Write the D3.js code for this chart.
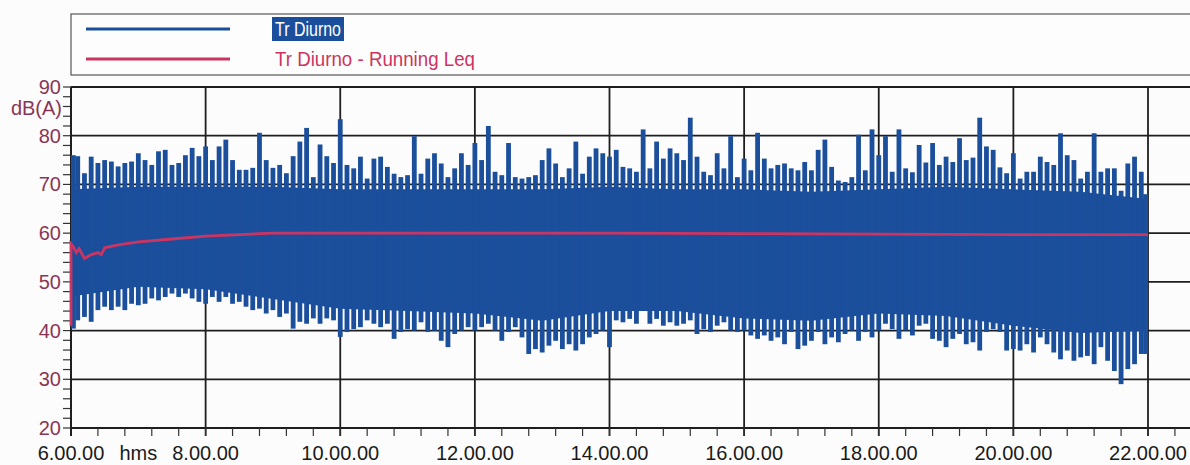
<!DOCTYPE html>
<html>
<head>
<meta charset="utf-8">
<script src="https://cdn.jsdelivr.net/npm/d3@7"></script>
<style>
  body { margin: 0; background: #fcfcfc; }
  text { font-family: "Liberation Sans", Arial, sans-serif; }
</style>
</head>
<body>
<svg id="chart" width="1190" height="465"></svg>
<script>
// axis ticks
const hourTicks = [6, 8, 10, 12, 14, 16, 18, 20, 22];
const dbTicks = [20, 30, 40, 50, 60, 70, 80, 90];

// Tr Diurno: max / min of each 6 minute slice, 6.00 -> 22.00
const sampleStart = 6;
const sampleStep = 0.1;
const peakDb = [
  76, 75.8, 72.3, 75.7, 74.4, 75, 74.7, 73.7, 74.4, 74.7,
  76.4, 75, 74, 76.8, 77.1, 74, 74.4, 76, 77.5, 75.8,
  77.8, 75, 77.8, 79.2, 75, 73, 73, 73.4, 80.6, 75,
  73.4, 74, 72.3, 75.8, 78.8, 81.6, 71.5, 78.2, 75.8, 74.4,
  83.4, 74, 73.3, 75.7, 71.2, 75.3, 75.7, 73.6, 72.2, 71.5,
  71.9, 79.9, 72.2, 75.3, 76.4, 74.3, 71.5, 73.3, 76.4, 74,
  78.5, 75, 82, 72.6, 71.9, 78.5, 71.5, 71.2, 71.5, 71.9,
  75, 77.4, 74.3, 71.5, 73.3, 78.8, 72.2, 75.7, 77.4, 76.4,
  75.7, 77.1, 73.6, 73.3, 72.6, 81.3, 73.3, 78.8, 75.3, 77.4,
  76.4, 75, 83.7, 75.7, 72.6, 71.9, 76.4, 73.3, 79.9, 71.5,
  75.3, 72.9, 80.6, 75.3, 73.3, 74, 74.3, 73.3, 72.9, 74.6,
  72.9, 77.1, 79.2, 73.6, 70.8, 70.5, 71.5, 80.2, 72.9, 81.3,
  76, 79.9, 72.6, 81.3, 73.3, 72.5, 78.1, 74.5, 78.5, 74,
  75.7, 74.6, 79.5, 75, 75.5, 83.7, 77.8, 77.1, 73.5, 72.3,
  76.4, 71.2, 72.6, 72.6, 75.7, 74.6, 74, 80.5, 76, 75,
  71.2, 72.6, 80.5, 72.6, 73.3, 73.3, 68.7, 74.3, 75.7, 72.6,
  68
];
const floorDb = [
  40.4, 42.1, 42.8, 41.8, 44.2, 44.9, 44.2, 44.9, 44.2, 45.5,
  45.2, 45.5, 46.6, 46.2, 46.9, 47.6, 46.9, 47.6, 46.6, 45.9,
  45.5, 46.9, 45.9, 46.9, 45.5, 45.9, 44.9, 44.2, 44.5, 43.5,
  44.2, 42.8, 43.5, 40.4, 41.8, 41.4, 42.5, 41.4, 42.5, 42.1,
  38.7, 39.7, 40.3, 40.7, 42.1, 41.4, 40.7, 41.4, 38.3, 39.7,
  40.3, 40, 41.7, 39.7, 40, 37.9, 36.6, 39.3, 40, 40.7,
  40, 40.7, 41.4, 40, 37.9, 39.7, 40.7, 38.6, 35.2, 36.2,
  35.5, 36.9, 37.9, 36.2, 37.2, 35.9, 37.2, 38.6, 39.3, 40,
  36.6, 42.1, 41.7, 42.4, 41.4, 44.1, 41.4, 42.4, 41, 41.7,
  41, 41.4, 42.1, 39.3, 40.3, 39.7, 41, 41.7, 40, 39.7,
  40, 39, 38.3, 39, 37.9, 38.6, 37.2, 39.7, 36.2, 36.9,
  37.9, 39.7, 37.2, 38.6, 37.6, 39.3, 40, 37.9, 39.7, 38.6,
  40, 41.4, 40.3, 38.3, 40, 39, 41, 41.4, 38.3, 37.9,
  36.6, 38.3, 39.3, 37.2, 37.6, 35.9, 39.7, 40.3, 39.7, 35.9,
  36.2, 35.9, 37.2, 35.5, 38.6, 37.2, 35.5, 34.1, 35.9, 33.8,
  34.5, 34.8, 33.1, 36.6, 33.8, 31.7, 29, 32.1, 33.1, 35.2,
  35.2
];

// solid part of the band, hour by hour
const coreHours = [6, 7, 8, 9, 10, 11, 12, 13, 14, 15, 16, 17, 18, 19, 20, 21, 22];
const coreHiDb = [69, 69.5, 69.5, 69.5, 69, 69, 69, 69, 69.5, 69, 69, 68.5, 69, 69.5, 69, 68.5, 67];
const coreLoDb = [47, 49, 48.5, 46.5, 44.5, 44, 43.5, 42, 44, 44, 42.5, 42, 43.5, 43, 41, 39.5, 40];

// Tr Diurno - Running Leq
const leqHours = [6, 6, 6.03, 6.08, 6.12, 6.2, 6.3, 6.4, 6.45, 6.5, 6.7, 7, 7.5, 8, 8.5, 9, 10, 12, 14, 16, 18, 20, 22];
const leqDb = [41, 57.8, 57.3, 56, 56.8, 54.8, 55.6, 56, 55.6, 57, 57.6, 58.2, 58.8, 59.4, 59.7, 60, 60, 60, 60, 59.9, 59.8, 59.7, 59.7];

const blue = '#1b4f9c';
const red = '#cc3461';
const labelColor = '#8b3556';
const gridColor = '#1e1e1e';

const svg = d3.select('#chart');
const plotLeft = 71, plotRight = 1148, plotTop = 87, plotBottom = 428;

const x = d3.scaleLinear().domain([6, 22]).range([plotLeft, plotRight]);
const y = d3.scaleLinear().domain([20, 90]).range([plotBottom, plotTop]);

svg.append('rect').attr('width', 1190).attr('height', 465).attr('fill', '#fcfcfc');

// grid
svg.append('g')
  .selectAll('line')
  .data(dbTicks)
  .join('line')
  .attr('x1', plotLeft).attr('x2', 1190)
  .attr('y1', d => y(d)).attr('y2', d => y(d))
  .attr('stroke', gridColor).attr('stroke-width', 1.8);

svg.append('g')
  .selectAll('line')
  .data(hourTicks)
  .join('line')
  .attr('x1', d => x(d)).attr('x2', d => x(d))
  .attr('y1', plotTop).attr('y2', plotBottom + 8)
  .attr('stroke', gridColor).attr('stroke-width', 1.8);

// minor ticks
const yMinor = d3.range(20, 90.1, 2);
svg.append('g')
  .selectAll('line')
  .data(yMinor)
  .join('line')
  .attr('x1', plotLeft - 8).attr('x2', plotLeft)
  .attr('y1', d => y(d)).attr('y2', d => y(d))
  .attr('stroke', '#333').attr('stroke-width', 1.2);

const xMinor = d3.range(6, 22.45, 0.4);
svg.append('g')
  .selectAll('line')
  .data(xMinor)
  .join('line')
  .attr('x1', d => x(d)).attr('x2', d => x(d))
  .attr('y1', plotBottom).attr('y2', plotBottom + 8)
  .attr('stroke', '#333').attr('stroke-width', 1.2);

// left axis line
svg.append('line')
  .attr('x1', plotLeft).attr('x2', plotLeft).attr('y1', plotTop).attr('y2', plotBottom + 8)
  .attr('stroke', gridColor).attr('stroke-width', 1.8);

// blue band
const core = coreHours.map((h, i) => ({ h, hi: coreHiDb[i], lo: coreLoDb[i] }));
svg.append('path')
  .datum(core)
  .attr('fill', blue)
  .attr('d', d3.area().x(d => x(d.h)).y0(d => y(d.lo)).y1(d => y(d.hi)));

const samples = peakDb.map((p, i) => ({ h: sampleStart + i * sampleStep, hi: p, lo: floorDb[i] }));
const barW = 4.8;
svg.append('g')
  .selectAll('rect')
  .data(samples)
  .join('rect')
  .attr('x', d => Math.max(plotLeft, Math.min(plotRight - barW, x(d.h) - barW / 2)))
  .attr('width', barW)
  .attr('y', d => y(d.hi))
  .attr('height', d => y(d.lo) - y(d.hi))
  .attr('fill', blue);

// running Leq
const leq = leqHours.map((h, i) => ({ h, v: leqDb[i] }));
svg.append('path')
  .datum(leq)
  .attr('fill', 'none')
  .attr('stroke', red)
  .attr('stroke-width', 2.8)
  .attr('d', d3.line().x(d => x(d.h)).y(d => y(d.v)));

// y labels
svg.append('g')
  .selectAll('text')
  .data(dbTicks)
  .join('text')
  .attr('x', plotLeft - 10)
  .attr('y', d => y(d) + 7)
  .attr('text-anchor', 'end')
  .attr('font-size', 20)
  .attr('fill', labelColor)
  .text(d => d);

svg.append('text')
  .attr('x', plotLeft - 9).attr('y', 115)
  .attr('text-anchor', 'end')
  .attr('font-size', 20)
  .attr('fill', labelColor)
  .text('dB(A)');

// x labels
svg.append('g')
  .selectAll('text')
  .data(hourTicks)
  .join('text')
  .attr('x', d => x(d))
  .attr('y', 460)
  .attr('text-anchor', 'middle')
  .attr('font-size', 20)
  .attr('fill', '#1a1a1a')
  .text(d => d + '.00.00');

svg.append('text')
  .attr('x', x(7)).attr('y', 460)
  .attr('text-anchor', 'middle')
  .attr('font-size', 20)
  .attr('fill', '#1a1a1a')
  .text('hms');

// legend
const legend = svg.append('g');
legend.append('rect')
  .attr('x', plotLeft).attr('y', 14).attr('width', 1200).attr('height', 61)
  .attr('fill', '#fdfdfd').attr('stroke', '#555').attr('stroke-width', 1.2);

const entries = [
  { name: 'Tr Diurno', color: blue, y: 29, w: 66 },
  { name: 'Tr Diurno - Running Leq', color: red, y: 59, w: 200 }
];
entries.forEach((e, i) => {
  legend.append('line')
    .attr('x1', 86).attr('x2', 230).attr('y1', e.y).attr('y2', e.y)
    .attr('stroke', e.color).attr('stroke-width', 2.8);
  if (i === 0) {
    legend.append('rect')
      .attr('x', 272).attr('y', e.y - 12).attr('width', e.w + 6).attr('height', 24)
      .attr('fill', blue);
  }
  legend.append('text')
    .attr('x', 275).attr('y', e.y + 7)
    .attr('font-size', 20)
    .attr('textLength', e.w)
    .attr('lengthAdjust', 'spacingAndGlyphs')
    .attr('fill', i === 0 ? '#ffffff' : e.color)
    .text(e.name);
});
</script>
</body>
</html>
